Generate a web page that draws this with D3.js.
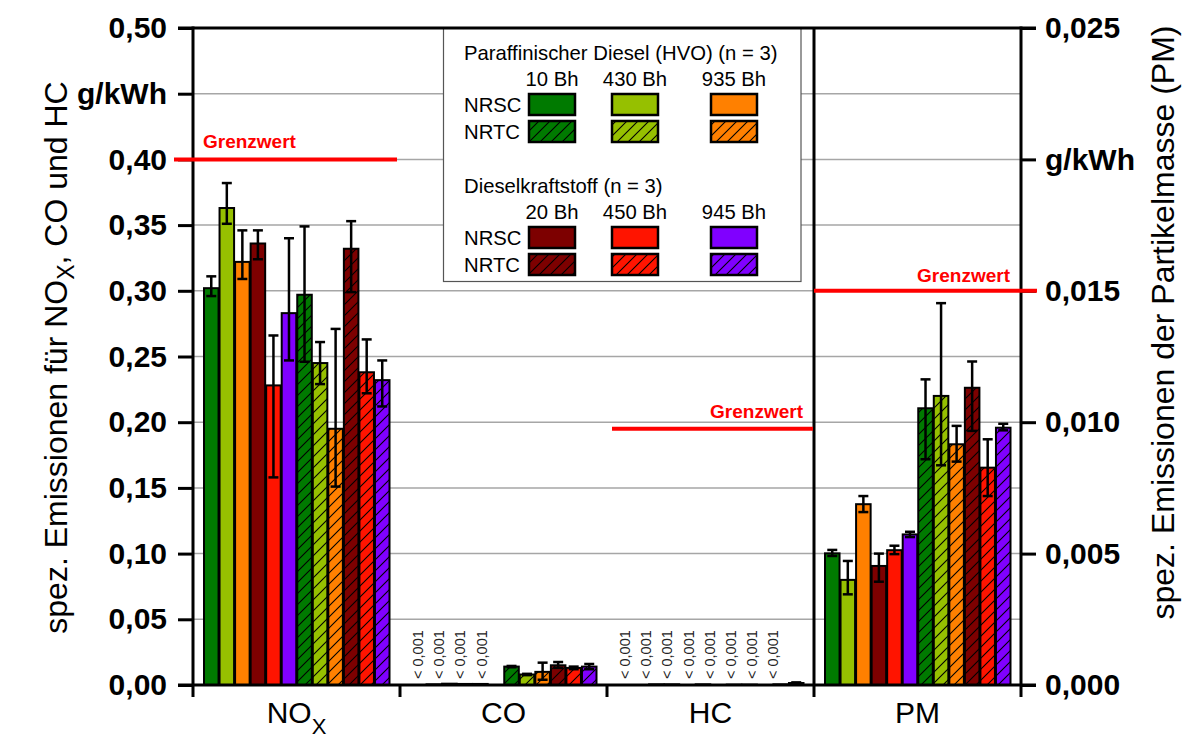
<!DOCTYPE html>
<html><head><meta charset="utf-8">
<script src="https://cdn.jsdelivr.net/npm/d3@7"></script>
<style>
body{margin:0;background:#fff}
text{font-family:"Liberation Sans",Arial,Helvetica,sans-serif}
</style>
</head><body>
<svg id="chart" width="1203" height="749"></svg>
<script>
// ---------------- data ----------------
const categories = ["NOx", "CO", "HC", "PM"];
const series = [
  "HVO NRSC 10 Bh", "HVO NRSC 430 Bh", "HVO NRSC 935 Bh",
  "DK NRSC 20 Bh", "DK NRSC 450 Bh", "DK NRSC 945 Bh",
  "HVO NRTC 10 Bh", "HVO NRTC 430 Bh", "HVO NRTC 935 Bh",
  "DK NRTC 20 Bh", "DK NRTC 450 Bh", "DK NRTC 945 Bh"
];
// g/kWh (left axis)
const noxValues = [0.302, 0.363, 0.322, 0.336, 0.228, 0.283, 0.297, 0.245, 0.195, 0.332, 0.238, 0.232];
const noxErrLo  = [0.006, 0.012, 0.013, 0.012, 0.070, 0.036, 0.051, 0.016, 0.044, 0.033, 0.016, 0.020];
const noxErrHi  = [0.009, 0.019, 0.024, 0.010, 0.038, 0.057, 0.052, 0.016, 0.076, 0.021, 0.025, 0.015];
const coValues  = [0, 0.0005, 0.001, 0.0008, 0.0008, 0, 0.014, 0.008, 0.010, 0.015, 0.013, 0.014];
const coErrLo   = [0, 0, 0, 0, 0, 0, 0.0005, 0.0005, 0.006, 0.002, 0.001, 0.002];
const coErrHi   = [0, 0, 0, 0, 0, 0, 0.0005, 0.0005, 0.007, 0.0025, 0.001, 0.002];
const hcValues  = [0, 0, 0.0005, 0.0005, 0, 0.0005, 0, 0.0003, 0.0003, 0, 0.0005, 0.0015];
const hcErrLo   = [0, 0, 0, 0, 0, 0, 0, 0, 0, 0, 0, 0.0005];
const hcErrHi   = [0, 0, 0, 0, 0, 0, 0, 0, 0, 0, 0, 0.0005];
// g/kWh (right axis, PM)
const pmValues  = [0.00501, 0.0040, 0.00688, 0.00453, 0.00513, 0.00573, 0.01053, 0.0110, 0.00916, 0.01131, 0.00827, 0.00979];
const pmErrLo   = [0.0001, 0.00055, 0.0003, 0.0006, 0.00015, 0.0001, 0.00194, 0.00264, 0.00066, 0.00164, 0.00108, 0.0001];
const pmErrHi   = [0.00013, 0.00072, 0.00031, 0.00047, 0.00017, 0.0001, 0.0011, 0.00353, 0.0007, 0.001, 0.00108, 0.00015];

const limitNOx = 0.40, limitHC = 0.195, limitPM = 0.015;
const coNotes = ["< 0,001", "< 0,001", "< 0,001", "< 0,001"];
const hcNotes = ["< 0,001", "< 0,001", "< 0,001", "< 0,001", "< 0,001", "< 0,001", "< 0,001", "< 0,001"];

const leftTicks = [0, 0.05, 0.10, 0.15, 0.20, 0.25, 0.30, 0.35, 0.40, 0.45, 0.50];
const leftTickLabels = ["0,00", "0,05", "0,10", "0,15", "0,20", "0,25", "0,30", "0,35", "0,40", "g/kWh", "0,50"];
const rightTicks = [0, 0.005, 0.010, 0.015, 0.020, 0.025];
const rightTickLabels = ["0,000", "0,005", "0,010", "0,015", "g/kWh", "0,025"];

const legendGroups = ["Paraffinischer Diesel (HVO) (n = 3)", "Dieselkraftstoff (n = 3)"];
const legendHours = [["10 Bh", "430 Bh", "935 Bh"], ["20 Bh", "450 Bh", "945 Bh"]];
const legendRows = ["NRSC", "NRTC"];

// styles
const palette = ["#007a00", "#96c000", "#ff8000", "#7d0000", "#ff1400", "#8000ff"];

// ---------------- drawing ----------------
const svg = d3.select("#chart");
const L = 193, R = 1021, T = 28, B = 685;

const x = d3.scaleBand().domain(categories).range([L, R]);
const inner = d3.scaleBand().domain(series).range([10.5, x.bandwidth() - 10]);
const yL = d3.scaleLinear().domain([0, 0.5]).range([B, T]);
const yR = d3.scaleLinear().domain([0, 0.025]).range([B, T]);

// hatch patterns
const defs = svg.append("defs");
palette.forEach((c, i) => {
  const p = defs.append("pattern").attr("id", "hatch" + i)
    .attr("patternUnits", "userSpaceOnUse").attr("width", 11).attr("height", 11);
  p.append("rect").attr("width", 11).attr("height", 11).attr("fill", c);
  p.append("path").attr("d", "M0,11 L11,0 M-3,3 L3,-3 M8,14 L14,8")
    .attr("stroke", "#000").attr("stroke-width", 1.1);
});
const fillFor = i => i < 6 ? palette[i] : `url(#hatch${i - 6})`;

// gridlines
svg.append("g").selectAll("line").data(leftTicks.filter(d => d > 0 && d < 0.5)).join("line")
  .attr("x1", L).attr("x2", R).attr("y1", d => yL(d)).attr("y2", d => yL(d))
  .attr("stroke", "#a6a6a6").attr("stroke-width", 1.5);

const groups = [
  {cat: "NOx", v: noxValues, lo: noxErrLo, hi: noxErrHi, y: yL},
  {cat: "CO", v: coValues, lo: coErrLo, hi: coErrHi, y: yL},
  {cat: "HC", v: hcValues, lo: hcErrLo, hi: hcErrHi, y: yL},
  {cat: "PM", v: pmValues, lo: pmErrLo, hi: pmErrHi, y: yR}
];

const barLayer = svg.append("g");
const errLayer = svg.append("g");
groups.forEach(g => {
  const data = series.map((s, i) => ({s, i, v: g.v[i], lo: g.lo[i], hi: g.hi[i]}));
  barLayer.selectAll(null).data(data.filter(d => d.v > 0)).join("rect")
    .attr("x", d => x(g.cat) + inner(d.s) + 0.5)
    .attr("width", inner.bandwidth() - 1)
    .attr("y", d => g.y(d.v))
    .attr("height", d => B - g.y(d.v))
    .attr("fill", d => fillFor(d.i))
    .attr("stroke", "#000").attr("stroke-width", 2);
  const eb = data.filter(d => d.v > 0 && (d.lo > 0 || d.hi > 0));
  const cx = d => x(g.cat) + inner(d.s) + inner.bandwidth() / 2;
  errLayer.selectAll(null).data(eb).join("line")
    .attr("x1", cx).attr("x2", cx)
    .attr("y1", d => g.y(d.v + d.hi)).attr("y2", d => g.y(d.v - d.lo))
    .attr("stroke", "#000").attr("stroke-width", 2.5);
  ["hi", "lo"].forEach(k => {
    errLayer.selectAll(null).data(eb).join("line")
      .attr("x1", d => cx(d) - 5).attr("x2", d => cx(d) + 5)
      .attr("y1", d => g.y(k === "hi" ? d.v + d.hi : d.v - d.lo))
      .attr("y2", d => g.y(k === "hi" ? d.v + d.hi : d.v - d.lo))
      .attr("stroke", "#000").attr("stroke-width", 2.5);
  });
});

// "< 0,001" notes
const noteLayer = svg.append("g");
[["CO", coNotes], ["HC", hcNotes]].forEach(([cat, notes]) => {
  notes.forEach((t, i) => {
    const cx = x(cat) + 18 + i * 21.2 + 5;
    noteLayer.append("text").attr("transform", `translate(${cx},679) rotate(-90)`)
      .attr("font-size", 14.5).attr("fill", "#222").text(t);
  });
});

// divider between HC and PM
svg.append("line").attr("x1", x("PM")).attr("x2", x("PM")).attr("y1", T).attr("y2", B)
  .attr("stroke", "#000").attr("stroke-width", 3);

// legend
const lg = svg.append("g");
lg.append("rect").attr("x", 443.5).attr("y", 28).attr("width", 357.5).attr("height", 253.5)
  .attr("fill", "#fff").attr("stroke", "#555").attr("stroke-width", 1.2);
const swX = [529, 612, 711], swW = 46, swH = 21;
const blockY = [0, 133];
legendGroups.forEach((title, gi) => {
  const oy = blockY[gi];
  lg.append("text").attr("x", 464).attr("y", 60 + oy).attr("font-size", 20.3).text(title);
  legendHours[gi].forEach((h, j) => {
    lg.append("text").attr("x", swX[j] + swW / 2).attr("y", 86 + oy).attr("font-size", 20.3)
      .attr("text-anchor", "middle").text(h);
  });
  legendRows.forEach((r, ri) => {
    lg.append("text").attr("x", 464).attr("y", 112 + ri * 26.5 + oy).attr("font-size", 20.3).text(r);
    legendHours[gi].forEach((h, j) => {
      const idx = ri * 6 + gi * 3 + j;
      lg.append("rect").attr("x", swX[j]).attr("y", 94 + ri * 27 + oy)
        .attr("width", swW).attr("height", swH)
        .attr("fill", fillFor(idx)).attr("stroke", "#000").attr("stroke-width", 2.5);
    });
  });
});

// limit lines
const red = "#ff0000";
const lim = svg.append("g");
lim.append("line").attr("x1", 174).attr("x2", x("NOx") + x.bandwidth() - 3)
  .attr("y1", yL(limitNOx)).attr("y2", yL(limitNOx)).attr("stroke", red).attr("stroke-width", 4);
lim.append("text").attr("x", 203).attr("y", yL(limitNOx) - 11).attr("font-size", 19)
  .attr("font-weight", "bold").attr("fill", red).text("Grenzwert");
lim.append("line").attr("x1", x("HC") + 5).attr("x2", x("PM") - 1)
  .attr("y1", yL(limitHC)).attr("y2", yL(limitHC)).attr("stroke", red).attr("stroke-width", 4);
lim.append("text").attr("x", x("PM") - 11).attr("y", yL(limitHC) - 11).attr("font-size", 19)
  .attr("font-weight", "bold").attr("fill", red).attr("text-anchor", "end").text("Grenzwert");
lim.append("line").attr("x1", x("PM")).attr("x2", R + 16)
  .attr("y1", yR(limitPM)).attr("y2", yR(limitPM)).attr("stroke", red).attr("stroke-width", 4);
lim.append("text").attr("x", R - 11).attr("y", yR(limitPM) - 9).attr("font-size", 19)
  .attr("font-weight", "bold").attr("fill", red).attr("text-anchor", "end").text("Grenzwert");

// axes frame
const fr = svg.append("g").attr("stroke", "#000").attr("stroke-width", 3);
fr.append("line").attr("x1", 178).attr("x2", R + 15).attr("y1", T).attr("y2", T);
fr.append("line").attr("x1", 178).attr("x2", R + 15).attr("y1", B).attr("y2", B);
fr.append("line").attr("x1", L).attr("x2", L).attr("y1", T - 1.5).attr("y2", B + 12);
fr.append("line").attr("x1", R).attr("x2", R).attr("y1", T - 1.5).attr("y2", B + 12);
fr.selectAll(null).data(categories.slice(1)).join("line")
  .attr("x1", d => x(d)).attr("x2", d => x(d)).attr("y1", B).attr("y2", B + 12);

const leftAxis = svg.append("g").attr("transform", `translate(${L},0)`)
  .call(d3.axisLeft(yL).tickValues(leftTicks).tickFormat((d, i) => leftTickLabels[i])
    .tickSize(15).tickPadding(11).tickSizeOuter(0));
const rightAxis = svg.append("g").attr("transform", `translate(${R},0)`)
  .call(d3.axisRight(yR).tickValues(rightTicks).tickFormat((d, i) => rightTickLabels[i])
    .tickSize(15).tickPadding(9).tickSizeOuter(0));
[leftAxis, rightAxis].forEach(a => {
  a.select(".domain").remove();
  a.selectAll(".tick line").attr("stroke", "#000").attr("stroke-width", 3);
  a.selectAll(".tick text").attr("font-family", "Liberation Sans, Arial, sans-serif")
    .attr("font-size", 30).attr("font-weight", "bold").attr("fill", "#000");
});
lim.raise();

// category labels
categories.forEach(c => {
  const t = svg.append("text").attr("x", x(c) + x.bandwidth() / 2).attr("y", 723)
    .attr("text-anchor", "middle").attr("font-size", 30);
  if (c === "NOx") {
    t.append("tspan").text("NO");
    t.append("tspan").attr("dy", 11).attr("font-size", 22).text("X");
  } else t.text(c);
});

// axis titles
const lt = svg.append("text").attr("transform", `translate(67,${(77 + 638) / 2}) rotate(-90)`)
  .attr("text-anchor", "middle").attr("font-size", 32);
lt.append("tspan").text("spez. Emissionen für NO");
lt.append("tspan").attr("dy", 7).attr("font-size", 23).text("X");
lt.append("tspan").attr("dy", -7).text(", CO und HC");

svg.append("text").attr("transform", `translate(1174,${(20 + 625) / 2}) rotate(-90)`)
  .attr("text-anchor", "middle").attr("font-size", 32).text("spez. Emissionen der Partikelmasse (PM)");
</script>
</body></html>
